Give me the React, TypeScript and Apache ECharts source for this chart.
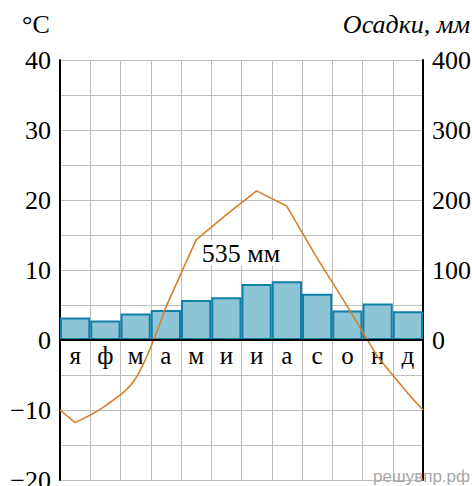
import React, { useEffect, useRef } from "react";
import * as echarts from "echarts";

const months = ["я", "ф", "м", "а", "м", "и", "и", "а", "с", "о", "н", "д"];
const precipitation = [32, 28, 38, 43, 57, 61, 80, 84, 66, 42, 52, 41];
const temperature = [-11.8, -9.4, -5.5, 4.7, 14.3, 17.9, 21.3, 19.1, 11.7, 4.8, -2.4, -7.6];
const edgeTemp = -10;
const tempTicks = [-20, -10, 0, 10, 20, 30, 40];
const precTicks = [0, 100, 200, 300, 400];
const totalLabel = "535 мм";

const SERIF = "Liberation Serif";

export default function App() {
  const ref = useRef<HTMLDivElement>(null);
  useEffect(() => {
    if (!ref.current) return;
    const chart = echarts.init(ref.current, undefined, { renderer: "svg" });
    const lineData: number[][] = [[0, edgeTemp]];
    temperature.forEach((t, i) => lineData.push([i + 0.5, t]));
    lineData.push([12, edgeTemp]);
    const lineSeg = (data: number[][], smooth: number | false) => ({
      type: "line",
      xAxisIndex: 1,
      yAxisIndex: 0,
      data,
      smooth,
      symbol: "none",
      lineStyle: { color: "#d6802c", width: 1.6 },
      z: 4,
    });
    chart.setOption({
      animation: false,
      grid: [
        { left: 60, right: 49, top: 60, bottom: 6, containLabel: false, outerBoundsMode: "none" },
        { left: 60, right: 49, top: 60, height: 280, containLabel: false, outerBoundsMode: "none" },
      ],
      xAxis: [
        {
          type: "category",
          gridIndex: 0,
          data: months,
          boundaryGap: true,
          axisLine: { show: false },
          axisTick: { show: false },
          axisLabel: { show: false },
          splitLine: { show: true, lineStyle: { color: "#bdbdbd", width: 1 } },
        },
        { type: "value", gridIndex: 0, min: 0, max: 12, show: false },
        {
          type: "category",
          gridIndex: 1,
          data: months,
          boundaryGap: true,
          position: "bottom",
          axisLine: { show: false },
          axisTick: { show: false },
          splitLine: { show: false },
          axisLabel: { fontFamily: SERIF, fontSize: 25, color: "#000", margin: 3 },
        },
      ],
      yAxis: [
        {
          type: "value",
          gridIndex: 0,
          min: -20,
          max: 40,
          interval: 5,
          position: "left",
          axisLine: { show: true, onZero: false, lineStyle: { color: "#000", width: 2 } },
          axisTick: { show: false },
          axisLabel: {
            fontFamily: SERIF,
            fontSize: 26,
            color: "#000",
            margin: 9,
            formatter: (v: number) =>
              tempTicks.includes(v) ? (v < 0 ? "−" + Math.abs(v) : String(v)) : "",
          },
          splitLine: { show: true, lineStyle: { color: "#bdbdbd", width: 1 } },
        },
        {
          type: "value",
          gridIndex: 0,
          min: -200,
          max: 400,
          interval: 50,
          position: "right",
          axisLine: { show: true, onZero: false, lineStyle: { color: "#000", width: 2 } },
          axisTick: { show: false },
          axisLabel: {
            fontFamily: SERIF,
            fontSize: 26,
            color: "#000",
            margin: 9,
            formatter: (v: number) => (precTicks.includes(v) ? String(v) : ""),
          },
          splitLine: { show: false },
        },
        { type: "value", gridIndex: 1, show: false, min: 0, max: 1 },
      ],
      series: [
        {
          type: "bar",
          xAxisIndex: 0,
          yAxisIndex: 1,
          data: precipitation,
          barCategoryGap: "0%",
          itemStyle: { color: "#8dc5d6", borderColor: "#1180a8", borderWidth: 2 },
          z: 2,
        },
        lineSeg(lineData.slice(0, 2), false),
        lineSeg(lineData.slice(1, 5), 0.35),
        lineSeg(lineData.slice(4, 12), false),
        lineSeg(lineData.slice(11, 14), 0.35),
        {
          type: "line",
          xAxisIndex: 1,
          yAxisIndex: 0,
          data: [],
          z: 5,
          markLine: {
            silent: true,
            symbol: "none",
            label: { show: false },
            lineStyle: { color: "#000", width: 2, type: "solid" },
            data: [{ yAxis: 0 }],
          },
        },
      ],
      graphic: [
        {
          type: "text",
          left: 22,
          top: 11,
          style: { text: "°C", font: `26px ${SERIF}`, fill: "#000" },
        },
        {
          type: "text",
          right: 2,
          top: 11,
          style: { text: "Осадки, мм", font: `italic 26px ${SERIF}`, fill: "#000" },
        },
        {
          type: "text",
          x: 241,
          y: 253,
          z: 10,
          style: {
            text: totalLabel,
            font: `26px ${SERIF}`,
            fill: "#000",
            align: "center",
            verticalAlign: "middle",
            backgroundColor: "#fff",
            padding: [0, 3, 0, 3],
          },
        },
        {
          type: "text",
          x: 470,
          y: 485,
          z: 10,
          style: {
            text: "решувпр.рф",
            font: "17px Liberation Sans",
            fill: "#a6a6a6",
            align: "right",
            verticalAlign: "bottom",
          },
        },
      ],
    });
    return () => chart.dispose();
  }, []);
  return <div ref={ref} style={{ width: 472, height: 486, position: "absolute", left: 0, top: 0 }} />;
}
